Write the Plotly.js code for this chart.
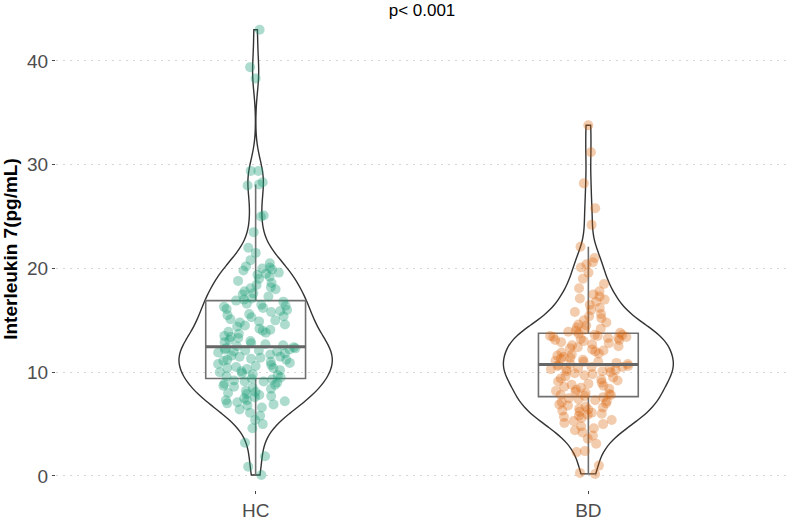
<!DOCTYPE html>
<html>
<head>
<meta charset="utf-8">
<script src="https://cdn.plot.ly/plotly-3.0.1.min.js"></script>
<style>html,body{margin:0;padding:0;background:#fff;}#chart{width:790px;height:523px;}</style>
</head>
<body>
<div id="chart"></div>
<script>
const groups = ["HC", "BD"];
const hcValues = [
  0.1, 0.9, 1.9, 3.2, 4.6, 5.0, 5.4, 5.8, 6.1, 6.4, 6.6, 6.8, 6.9, 7.0, 7.1, 7.2, 7.3, 7.3, 7.5, 7.6,
  7.7, 7.8, 7.9, 8.0, 8.1, 8.2, 8.4, 8.5, 8.6, 8.7, 8.8, 8.9, 9.0, 9.1, 9.1, 9.2, 9.3,
  9.4, 9.5, 9.6, 9.8, 9.9, 10.0, 10.1, 10.2, 10.3, 10.4, 10.5, 10.6, 10.7, 10.8, 10.9, 11.0, 11.1, 11.2,
  11.3, 11.4, 11.5, 11.5, 11.6, 11.7, 11.8, 11.9, 12.0, 12.0, 12.1, 12.1, 12.2, 12.2, 12.3, 12.3, 10.4, 11.2, 9.7,
  12.4, 12.5, 12.6, 12.7, 12.8, 12.9, 13.0, 13.1, 13.3, 13.4, 13.5, 13.7, 13.8, 13.9, 14.0, 14.1, 14.2, 14.4,
  14.5, 14.6, 14.8, 14.9, 15.0, 15.1, 15.3, 15.4, 15.5, 15.6, 15.8, 15.9, 16.0, 16.1, 16.2, 16.3, 16.4, 16.5, 16.6,
  16.8, 16.9, 17.0, 17.1, 17.3, 17.5, 17.6, 17.8, 18.0, 18.1, 18.2, 18.4, 18.6, 18.8, 19.0, 19.2, 19.4, 19.5,
  19.6, 19.8, 19.9, 20.0, 20.1, 20.2, 20.5, 20.8, 21.5, 22.0, 23.5, 25.0, 25.1, 28.0, 28.1, 28.3, 29.4, 29.4,
  38.3, 39.4, 43.0
];
const bdValues = [
  0.2, 0.3, 1.0, 2.3, 2.4, 3.1, 3.6, 3.9, 4.2, 4.4, 4.6, 4.8, 5.0, 5.1, 5.3, 5.4, 5.6, 5.7, 5.8, 5.9,
  6.0, 6.1, 6.2, 6.3, 6.4, 6.5, 6.6, 6.7, 6.8, 6.9, 7.0, 7.1, 7.2, 7.3, 7.4, 7.5, 7.6,
  7.7, 7.8, 7.8, 7.9, 8.0, 8.1, 8.2, 8.3, 8.4, 8.5, 8.6, 8.7, 8.8, 8.9, 9.0, 9.1, 9.2, 9.3, 9.4, 9.5,
  9.6, 9.7, 9.8, 9.9, 10.0, 10.1, 10.1, 10.2, 10.3, 10.3, 10.4, 10.4, 10.5, 10.5, 10.6, 10.6, 10.7,
  10.8, 10.8, 10.9, 11.0, 11.0, 11.1, 11.2, 11.3, 11.4, 11.5, 11.6, 11.7, 11.8, 11.9, 12.0, 12.1, 12.2,
  12.3, 12.4, 12.5, 12.6, 12.7, 12.8, 12.9, 13.0, 13.1, 13.1, 13.2, 13.3, 13.3, 13.4, 13.4, 13.5, 13.5,
  13.6, 13.6, 13.7,
  13.8, 13.9, 14.0, 14.1, 14.2, 14.3, 14.5, 14.6, 14.8, 15.0, 15.2, 15.4, 15.6, 15.8, 16.0, 16.2, 16.5,
  16.8, 17.0, 17.1, 17.3, 17.5, 17.8, 18.1, 18.5, 19.0, 19.6, 20.1, 20.4, 20.6, 21.0, 22.1, 24.2, 25.8,
  28.2, 31.2, 33.8
];
const yTicks = [0, 10, 20, 30, 40];
const pointColors = ["rgba(27,158,119,0.36)", "rgba(217,95,2,0.32)"];
const seriesValues = [hcValues, bdValues];
const violinWidths = [0.46, 0.51];
const bandwidths = [1.8, 1.5];

function median(arr) {
  const s = arr.slice().sort((a, b) => a - b);
  const n = s.length;
  return n % 2 ? s[(n - 1) / 2] : (s[n / 2 - 1] + s[n / 2]) / 2;
}

const traces = [];
groups.forEach((g, i) => {
  const vals = seriesValues[i];
  traces.push({
    type: "violin",
    x: vals.map(() => g),
    y: vals,
    name: g,
    points: false,
    spanmode: "hard",
    bandwidth: bandwidths[i],
    width: violinWidths[i],
    scalemode: "width",
    fillcolor: "rgba(0,0,0,0)",
    line: {color: "#333333", width: 1.4},
    box: {visible: false},
    meanline: {visible: false},
    hoverinfo: "skip",
    showlegend: false
  });
});
groups.forEach((g, i) => {
  const vals = seriesValues[i];
  traces.push({
    type: "box",
    x: vals.map(() => g),
    y: vals,
    name: g,
    boxpoints: "all",
    jitter: 0.8,
    pointpos: 0,
    width: 0.3,
    whiskerwidth: 0,
    fillcolor: "rgba(0,0,0,0)",
    line: {color: "#707070", width: 1.6},
    marker: {color: pointColors[i], size: 10, line: {width: 0}},
    hoverinfo: "skip",
    showlegend: false
  });
});
/* thicker median bar, as in ggplot's boxplot */
groups.forEach((g, i) => {
  const m = median(seriesValues[i]);
  traces.push({
    type: "box",
    x: [g],
    q1: [m], median: [m], q3: [m],
    lowerfence: [m], upperfence: [m],
    name: g + " median",
    boxpoints: false,
    width: 0.3,
    whiskerwidth: 0,
    fillcolor: "rgba(0,0,0,0)",
    line: {color: "#666666", width: 3},
    hoverinfo: "skip",
    showlegend: false
  });
});

const layout = {
  width: 790,
  height: 523,
  margin: {l: 56, r: 2, t: 8, b: 33},
  paper_bgcolor: "#ffffff",
  plot_bgcolor: "#ffffff",
  showlegend: false,
  violinmode: "overlay",
  boxmode: "overlay",
  font: {family: "Liberation Sans, Arial, sans-serif"},
  title: {
    text: "p< 0.001",
    x: 0.5, xref: "paper", xanchor: "center",
    y: 1 - 10 / 523, yref: "container", yanchor: "middle",
    font: {size: 17, color: "#000000"}
  },
  xaxis: {
    type: "category",
    categoryorder: "array",
    categoryarray: groups,
    range: [-0.6, 1.6],
    showgrid: false,
    zeroline: false,
    showline: false,
    ticks: "outside",
    ticklen: 3,
    tickwidth: 1,
    tickcolor: "#444444",
    tickfont: {size: 19, color: "#4d4d4d"}
  },
  yaxis: {
    range: [-1.35, 45.1],
    tickvals: yTicks,
    ticktext: yTicks.map(String),
    showgrid: true,
    gridcolor: "#d6d6d6",
    griddash: "2px,5px",
    gridwidth: 1,
    zeroline: false,
    showline: false,
    ticks: "outside",
    ticklen: 3,
    tickwidth: 1,
    tickcolor: "#444444",
    tickfont: {size: 19, color: "#4d4d4d"},
    title: {
      text: "<b>Interleukin 7(pg/mL)</b>",
      font: {size: 19, color: "#000000"},
      standoff: 6
    }
  }
};

Plotly.newPlot("chart", traces, layout, {displayModeBar: false, staticPlot: true});
</script>
</body>
</html>
